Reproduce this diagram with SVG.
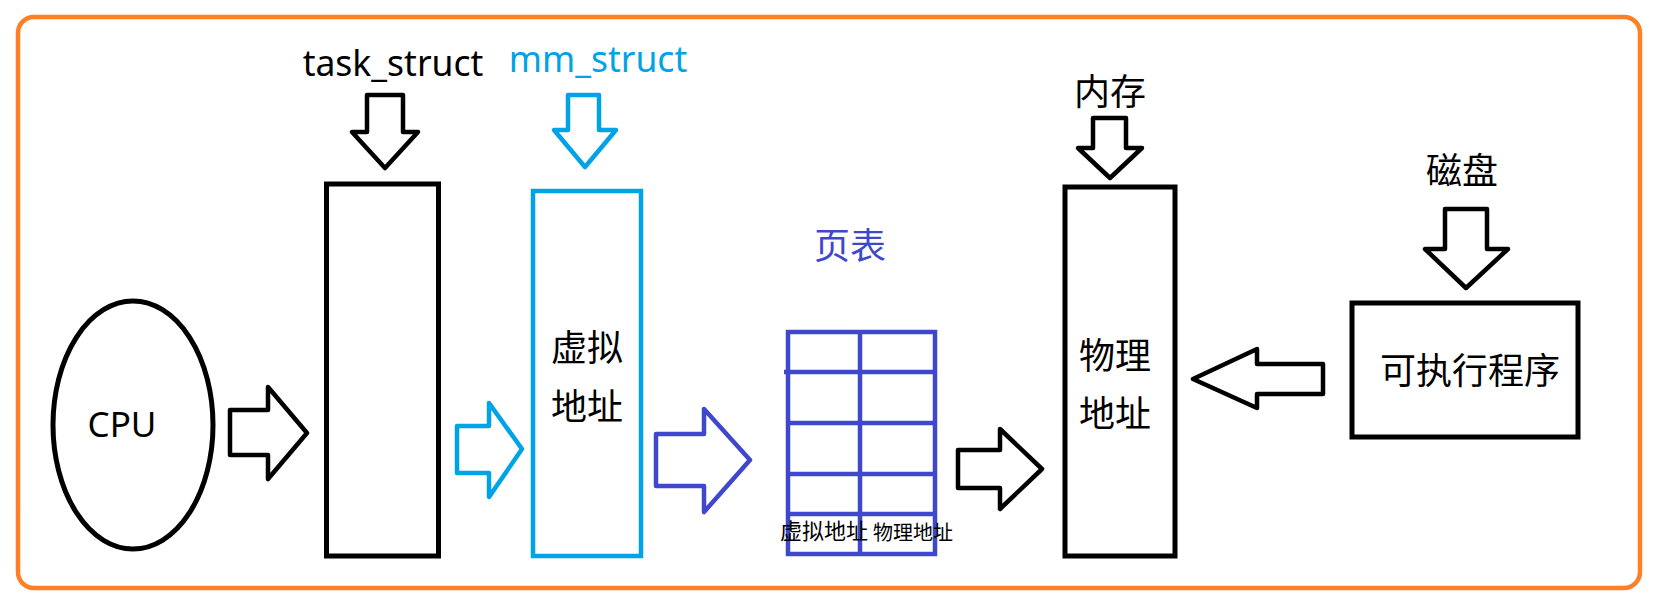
<svg xmlns="http://www.w3.org/2000/svg" width="1657" height="609" viewBox="0 0 1657 609">
<style>
.lat{font-family:"Noto Sans","Liberation Sans",sans-serif;}
.cjk{font-family:"Noto Sans CJK SC","Noto Sans",sans-serif;}
.blk{fill:none;stroke:#000;stroke-width:5;}
.arr{fill:#fff;stroke-width:4.5;stroke-linejoin:round;}
</style>
<rect width="1657" height="609" fill="#fff"/>
<rect id="frame" x="18" y="17" width="1622" height="571" rx="16" fill="none" stroke="#FF7F27" stroke-width="4.5"/>

<g id="cpu">
<ellipse cx="133" cy="425" rx="80" ry="124" class="blk"/>
<text x="122" y="437" font-size="35" text-anchor="middle" class="lat" fill="#000">CPU</text>
</g>

<g id="task_struct">
<text x="393" y="76" font-size="35.5" text-anchor="middle" class="lat" fill="#000">task_struct</text>
<rect x="326.5" y="184" width="112" height="372" class="blk"/>
</g>

<g id="mm_struct">
<text x="598" y="72" font-size="35.5" text-anchor="middle" class="lat" fill="#00A2E8">mm_struct</text>
<rect x="533" y="191" width="108" height="365" fill="none" stroke="#00A2E8" stroke-width="4.5"/>
<text x="587" y="361" font-size="36" text-anchor="middle" class="cjk" fill="#000">虚拟</text>
<text x="587" y="420" font-size="36" text-anchor="middle" class="cjk" fill="#000">地址</text>
</g>

<g id="page_table">
<text x="850" y="259" font-size="36" text-anchor="middle" class="cjk" fill="#3F48CC">页表</text>
<g fill="none" stroke="#3F48CC" stroke-width="4.5">
<rect x="788" y="332" width="147" height="222"/>
<line x1="860" y1="332" x2="860" y2="554"/>
<line x1="784" y1="372" x2="935" y2="372"/>
<line x1="788" y1="423" x2="935" y2="423"/>
<line x1="788" y1="474" x2="935" y2="474"/>
<line x1="788" y1="514" x2="935" y2="514"/>
</g>
<text x="780" y="539" font-size="22" class="cjk" fill="#000">虚拟地址</text>
<text x="873" y="540" font-size="20" class="cjk" fill="#000">物理地址</text>
</g>

<g id="memory">
<text x="1110" y="105" font-size="36" text-anchor="middle" class="cjk" fill="#000">内存</text>
<rect x="1065" y="187" width="110" height="369" class="blk"/>
<text x="1115" y="369" font-size="36" text-anchor="middle" class="cjk" fill="#000">物理</text>
<text x="1115" y="427" font-size="36" text-anchor="middle" class="cjk" fill="#000">地址</text>
</g>

<g id="disk">
<text x="1462" y="184" font-size="36" text-anchor="middle" class="cjk" fill="#000">磁盘</text>
<rect x="1352" y="303" width="226" height="134" class="blk"/>
<text x="1470" y="384" font-size="36" text-anchor="middle" class="cjk" fill="#000">可执行程序</text>
</g>

<g id="connectors">
<polygon class="arr" stroke="#000" points="230,410 268,410 268,387 307,433 268,479 268,455 230,455"/>
<polygon class="arr" stroke="#00A2E8" points="457,426 489,426 489,403 522,449 489,497 489,473 457,473"/>
<polygon class="arr" stroke="#3F48CC" points="656,434 704,434 704,409 750,460 704,512 704,486 656,486"/>
<polygon class="arr" stroke="#000" points="958,450 1000,450 1000,429 1042,469 1000,509 1000,488 958,488"/>
<polygon class="arr" stroke="#000" points="1323,364 1257,364 1257,349 1193,379 1257,408 1257,394 1323,394"/>
<polygon class="arr" stroke="#000" points="367,95 403,95 403,132 418,132 385,168 352,132 367,132"/>
<polygon class="arr" stroke="#00A2E8" points="568,95 599,95 599,130 616,130 585,167 554,130 568,130"/>
<polygon class="arr" stroke="#000" points="1093,118 1126,118 1126,148 1142,148 1110,178 1078,148 1093,148"/>
<polygon class="arr" stroke="#000" points="1445,209 1487,209 1487,249 1508,249 1466,288 1425,249 1445,249"/>
</g>
</svg>
